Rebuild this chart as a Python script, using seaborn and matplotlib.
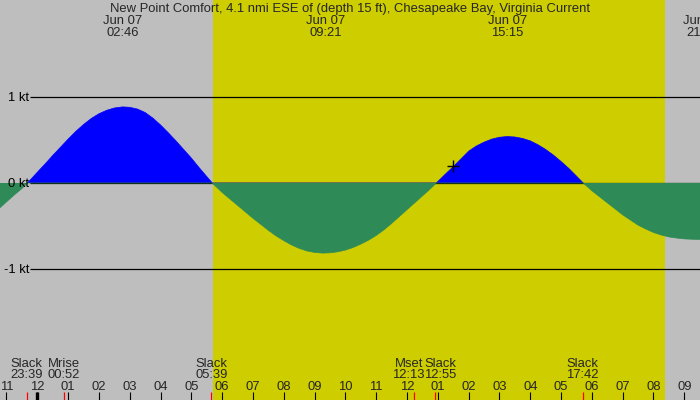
import numpy as np
import pandas as pd
import matplotlib
matplotlib.use("Agg")
import matplotlib.pyplot as plt
import seaborn as sns

# ---- data (hours relative to midnight Jun 07, current speed in knots) ----
hours = [-1.5, -1.25, -1.0, -0.75, -0.5, -0.32, -0.25, 0.0, 0.25, 0.5, 0.75,
         1.0, 1.25, 1.5, 1.75, 2.0, 2.25, 2.5, 2.77, 3.0, 3.25, 3.5, 3.75,
         4.0, 4.25, 4.5, 4.75, 5.0, 5.25, 5.5, 5.68,
         5.75, 6.0, 6.25, 6.5, 6.75, 7.0, 7.25, 7.5, 7.75, 8.0, 8.25, 8.5,
         8.75, 9.0, 9.25, 9.5, 9.75, 10.0, 10.25, 10.5, 10.75, 11.0, 11.25,
         11.5, 11.75, 12.0, 12.25, 12.5, 12.75, 12.95,
         13.0, 13.25, 13.5, 13.75, 14.0, 14.25, 14.5, 14.75, 15.0, 15.25,
         15.5, 15.75, 16.0, 16.25, 16.5, 16.75, 17.0, 17.25, 17.5, 17.72,
         17.75, 18.0, 18.25, 18.5, 18.75, 19.0, 19.25, 19.5, 19.75, 20.0,
         20.25, 20.5, 20.75, 21.0, 21.25, 21.5, 21.75, 22.0]
speed = [-0.38, -0.30, -0.22, -0.14, -0.065, 0.0, 0.027, 0.125, 0.22, 0.32, 0.415,
         0.51, 0.60, 0.68, 0.75, 0.805, 0.845, 0.872, 0.885, 0.88, 0.86, 0.82, 0.755,
         0.675, 0.585, 0.49, 0.39, 0.29, 0.18, 0.075, 0.0,
         -0.025, -0.11, -0.185, -0.26, -0.335, -0.41, -0.48, -0.55, -0.615, -0.67,
         -0.72, -0.76, -0.79, -0.807, -0.815, -0.812, -0.80, -0.78, -0.75, -0.71,
         -0.665, -0.61, -0.545, -0.47, -0.39, -0.31, -0.23, -0.15, -0.07, 0.0,
         0.017, 0.105, 0.19, 0.28, 0.37, 0.43, 0.475, 0.51, 0.532, 0.54,
         0.535, 0.518, 0.49, 0.445, 0.39, 0.325, 0.25, 0.17, 0.08, 0.0,
         -0.01, -0.09, -0.16, -0.23, -0.30, -0.37, -0.43, -0.49, -0.535, -0.575,
         -0.605, -0.627, -0.64, -0.65, -0.654, -0.656, -0.657, -0.657]

title = "New Point Comfort, 4.1 nmi ESE of (depth 15 ft), Chesapeake Bay, Virginia Current"
top_times = [2.767, 9.35, 15.25, 21.6]
top_labels = ["Jun 07\n02:46", "Jun 07\n09:21", "Jun 07\n15:15", "Jun 07\n21:36"]

event_times = [-0.35, 0.867, 5.65, 12.217, 12.917, 17.7]
event_names = ["Slack", "Mrise", "Slack", "Mset", "Slack", "Slack"]
event_clock = ["23:39", "00:52", "05:39", "12:13", "12:55", "17:42"]
event_shift_px = [0, 0, 0, -5, 5, 0]

hour_ticks = list(range(-1, 22))
hour_labels = [f"{(h % 12) or 12:02d}" for h in hour_ticks]

level_values = [1, 0, -1]
level_labels = ["1 kt", "0 kt", "-1 kt"]

sunrise, sunset = 5.71, 20.37
now_time, now_speed = 13.48, 0.198

# ---- styling ----
sns.set_theme(style="white")
plt.rcParams['font.family'] = ['Liberation Sans', 'DejaVu Sans']
FS = 9.35
GREY = "#bebebe"
YELLOW = "#cdcd00"
FLOOD = "#0000ff"
EBB = "#2e8b57"

fig = plt.figure(figsize=(7, 4), dpi=100)
ax = fig.add_axes([0, 0, 1, 1])
ax.set_facecolor(GREY)

# pixel helpers (figure is 700x400, axes fill it)
X0, PXH = 37.3, 30.81          # x pixel of midnight, pixels per hour
Y0, PXK = 183.0, 86.0          # y pixel of 0 kt, pixels per knot
xmin, xmax = (0 - X0) / PXH, (700 - X0) / PXH
ymax, ymin = Y0 / PXK, (Y0 - 400) / PXK
py = lambda y: (Y0 - y) / PXK
px = lambda dx: dx / PXH

ax.set_xlim(xmin, xmax)
ax.set_ylim(ymin, ymax)

ax.axvspan(sunrise, sunset, color=YELLOW, lw=0, zorder=0)

df = pd.DataFrame({"t": hours, "v": speed})
t = df["t"].to_numpy()
v = df["v"].to_numpy()
ax.fill_between(t, 0, v, where=v >= 0, interpolate=True, color=FLOOD, lw=0, zorder=1)
sns.lineplot(x=t, y=np.where(v >= 0, v, np.nan), color=FLOOD, lw=0.5, ax=ax, zorder=1)

# reference lines
lx0 = (30 - X0) / PXH
ax.hlines(level_values, lx0, xmax, color="black", lw=0.9, zorder=2)

ax.fill_between(t, 0, v, where=v <= 0, interpolate=True, color=EBB, lw=0, zorder=3)
sns.lineplot(x=t, y=np.where(v <= 0, v, np.nan), color=EBB, lw=0.5, ax=ax, zorder=3)

for val, lab in zip(level_values, level_labels):
    ax.text(lx0 - px(1), val - 4 / PXK, lab, ha="right", va="baseline",
            fontsize=FS, color="black", zorder=5)

# title and top labels
ax.text((xmin + xmax) / 2, py(12.3), title, ha="center", va="baseline", fontsize=FS, zorder=5)
for tt, lab in zip(top_times, top_labels):
    a, b = lab.split("\n")
    ax.text(tt, py(24.3), a, ha="center", va="baseline", fontsize=FS, zorder=5)
    ax.text(tt, py(36.3), b, ha="center", va="baseline", fontsize=FS, zorder=5)

# bottom event labels
for tt, nm, ck, sh in zip(event_times, event_names, event_clock, event_shift_px):
    ax.text(tt + px(sh), py(366.8), nm, ha="center", va="baseline", fontsize=FS, zorder=5)
    ax.text(tt + px(sh), py(378.5), ck, ha="center", va="baseline", fontsize=FS, zorder=5)

# hour ticks
for h, lab in zip(hour_ticks, hour_labels):
    ax.text(h, py(389.5), lab, ha="center", va="baseline", fontsize=FS, zorder=5)
ax.vlines(hour_ticks, py(400), py(392), color="black", lw=0.8, zorder=5)
ax.vlines([0], py(400), py(392), color="black", lw=2.4, zorder=5)
ax.vlines(event_times, py(400), py(392), color="red", lw=0.9, zorder=6)

# current time marker
ax.plot([now_time], [now_speed], marker="+", ms=9, mew=1.0, color="black", zorder=7)

ax.set_xticks([])
ax.set_yticks([])
for s in ax.spines.values():
    s.set_visible(False)
if ax.get_legend() is not None:
    ax.get_legend().remove()

fig.savefig("out.png", dpi=100)
